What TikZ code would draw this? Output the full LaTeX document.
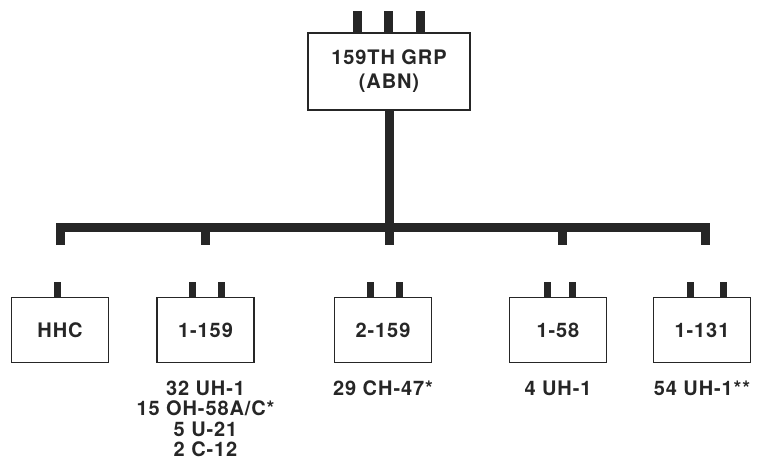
\documentclass[tikz,border=0pt]{standalone}
\usepackage{fontspec}
\setmainfont{TeX Gyre Heros}[LetterSpace=4.5]
\usetikzlibrary{positioning}
\definecolor{ink}{HTML}{262626}

\tikzset{
  unitbox/.style={draw=ink, line width=1.6pt, minimum width=97pt, minimum height=65pt,
    inner sep=0pt, text=ink, font=\bfseries\fontsize{20}{24}\selectfont},
  bar/.style={line width=9pt, draw=ink, line join=miter},
  stub/.style={line width=7pt, draw=ink},
  strength/.style={inner sep=0pt, align=center, anchor=north, text=ink,
    font=\bfseries\fontsize{20}{20.5}\selectfont},
}

\begin{document}
\begin{tikzpicture}[x=1pt,y=-1pt]
  \useasboundingbox (0,0) rectangle (757,461);

  % group headquarters
  \node[unitbox, minimum width=162pt, minimum height=77pt, align=center] (grp) at (389,71.5)
    {159TH GRP\\(ABN)};
  \foreach \dx in {-32,-1,31}{
    \draw[stub, line width=9pt] ([xshift=\dx pt]grp.north) -- ++(0,-21);
  }

  % bus line and drop points
  \coordinate (bus) at (389,227);
  \coordinate (dhhc) at (60,245);
  \coordinate (d1159) at (205,245);
  \coordinate (d2159) at (389,245);
  \coordinate (d58) at (562,245);
  \coordinate (d131) at (705,245);

  \draw[bar] (grp.south) -- (bus);
  \draw[bar] (dhhc) -- (dhhc |- bus) -- (d131 |- bus) -- (d131);
  \foreach \c in {d1159,d2159,d58}{
    \draw[bar] (\c |- bus) -- (\c);
  }

  % subordinate units
  \node[unitbox] (hhc)   at (60,330)    {HHC};
  \node[unitbox] (u1159) at (205.5,330) {1-159};
  \node[unitbox] (u2159) at (383,330)   {2-159};
  \node[unitbox] (u58)   at (558,330)   {1-58};
  \node[unitbox] (u131)  at (702,330)   {1-131};

  % unit flags
  \foreach \u/\dx in {hhc/-3, u1159/-13, u1159/16, u2159/-13, u2159/16,
                      u58/-11, u58/14, u131/-12, u131/21}{
    \draw[stub] ([xshift=\dx pt]\u.north) -- ++(0,-14.5);
  }

  % aircraft strength
  \node[strength, below=17pt of u1159] (a1159) {32 UH-1\\15 OH-58A/C*\\5 U-21\\2 C-12};
  \node[strength, below=17pt of u2159] (a2159) {29 CH-47*};
  \node[strength, below=17pt of u58]   (a58)   {4 UH-1};
  \node[strength, below=17pt of u131]  (a131)  {54 UH-1**};
\end{tikzpicture}
\end{document}
